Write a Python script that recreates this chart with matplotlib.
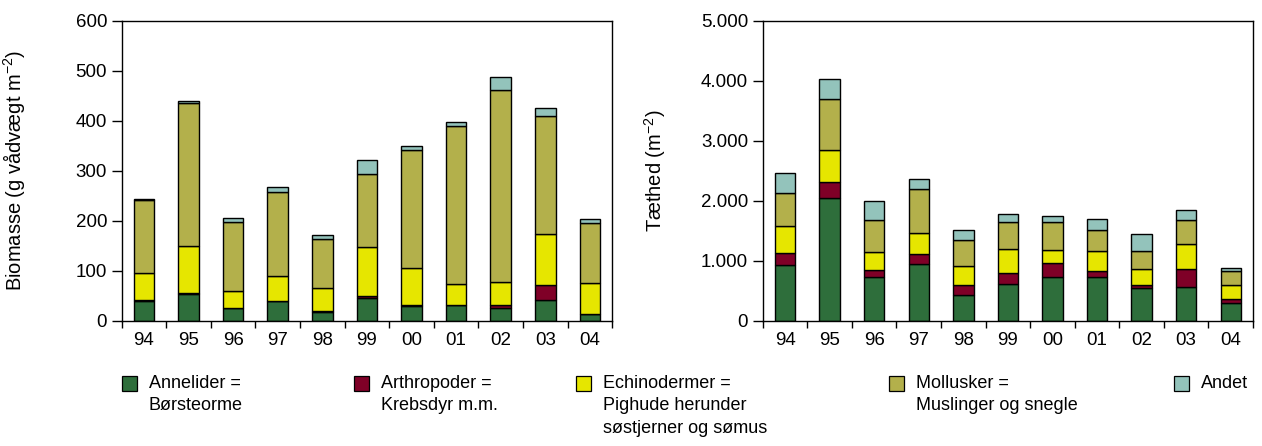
import matplotlib
matplotlib.use("Agg")
import matplotlib.pyplot as plt
from matplotlib.patches import Rectangle
from matplotlib.ticker import FuncFormatter, FixedLocator
import numpy as np

plt.rcParams['font.family'] = ['Liberation Sans', 'DejaVu Sans']
plt.rcParams['mathtext.fontset'] = 'custom'
plt.rcParams['mathtext.rm'] = 'Liberation Sans'
plt.rcParams['mathtext.it'] = 'Liberation Sans'

years = ['94', '95', '96', '97', '98', '99', '00', '01', '02', '03', '04']

# biomasse (g vaadvaegt m-2)
bio_annelider = [40, 54, 25, 39, 17, 45, 29, 31, 25, 42, 13]
bio_arthropoder = [1, 2, 1, 1, 3, 5, 2, 1, 7, 29, 1]
bio_echinodermer = [55, 94, 33, 49, 45, 97, 74, 42, 45, 102, 61]
bio_mollusker = [145, 285, 139, 168, 99, 146, 236, 315, 384, 236, 120]
bio_andet = [2, 4, 8, 11, 7, 28, 8, 8, 27, 16, 9]

# taethed (m-2)
tae_annelider = [928, 2039, 722, 939, 422, 606, 722, 722, 539, 556, 294]
tae_arthropoder = [194, 278, 122, 172, 178, 183, 234, 106, 50, 300, 73]
tae_echinodermer = [461, 533, 306, 345, 311, 400, 222, 328, 278, 416, 227]
tae_mollusker = [539, 844, 522, 738, 439, 450, 466, 355, 289, 400, 234]
tae_andet = [339, 334, 322, 173, 167, 144, 95, 189, 294, 178, 55]

labels = ['Annelider =\nBørsteorme', 'Arthropoder =\nKrebsdyr m.m.',
          'Echinodermer =\nPighude herunder\nsøstjerner og sømus',
          'Mollusker =\nMuslinger og snegle', 'Andet']
colors = ['#2e6e3b', '#7f0027', '#e6e600', '#b3b04b', '#93c3bb']

fig = plt.figure(figsize=(12.62, 4.46), dpi=100)
ax1 = fig.add_axes([0.0964, 0.281, 0.3887, 0.6726])
ax2 = fig.add_axes([0.6044, 0.281, 0.3885, 0.6726])

fs = 13.5


def stacked(ax, series, ymax, ystep):
    x = np.arange(len(years))
    bottom = np.zeros(len(years))
    for vals, c in zip(series, colors):
        ax.bar(x, vals, 0.46, bottom=bottom, color=c, edgecolor='black',
               linewidth=1.0)
        bottom += np.array(vals)
    ax.set_xlim(-0.5, len(years) - 0.5)
    ax.set_ylim(0, ymax)
    ax.set_yticks(np.arange(0, ymax + 1, ystep))
    ax.xaxis.set_major_locator(FixedLocator(np.arange(-0.5, len(years), 1)))
    ax.xaxis.set_minor_locator(FixedLocator(x))
    ax.set_xticklabels([])
    ax.set_xticklabels(years, minor=True)
    ax.tick_params(axis='x', which='major', direction='out', length=5, width=1)
    ax.tick_params(axis='x', which='minor', length=0, pad=8, labelsize=fs)
    ax.tick_params(axis='y', direction='out', length=7, width=1, pad=3.5,
                   labelsize=fs)
    for s in ax.spines.values():
        s.set_linewidth(1.0)


stacked(ax1, [bio_annelider, bio_arthropoder, bio_echinodermer,
              bio_mollusker, bio_andet], 600, 100)
stacked(ax2, [tae_annelider, tae_arthropoder, tae_echinodermer,
              tae_mollusker, tae_andet], 5000, 1000)

ax2.yaxis.set_major_formatter(FuncFormatter(lambda v, p: f'{int(v):,}'.replace(',', '.')))

ax1.set_ylabel('Biomasse (g vådvægt m$^{-2}$)', fontsize=14.5)
ax2.set_ylabel('Tæthed (m$^{-2}$)', fontsize=14.5)
ax1.yaxis.set_label_coords(-0.193, 0.5)
ax2.yaxis.set_label_coords(-0.193, 0.5)

# legend drawn by hand so the square lines up with the first text line
leg_x = [122, 354, 576, 889, 1174]
for lx, lab, c in zip(leg_x, labels, colors):
    fig.add_artist(Rectangle((lx / 1262, 1 - 391 / 446), 15 / 1262, 15 / 446,
                             transform=fig.transFigure, facecolor=c,
                             edgecolor='black', linewidth=0.9))
    fig.text((lx + 27) / 1262, 1 - 375 / 446, lab, ha='left', va='top',
             fontsize=13, linespacing=1.42)

fig.savefig('out.png', dpi=100)
